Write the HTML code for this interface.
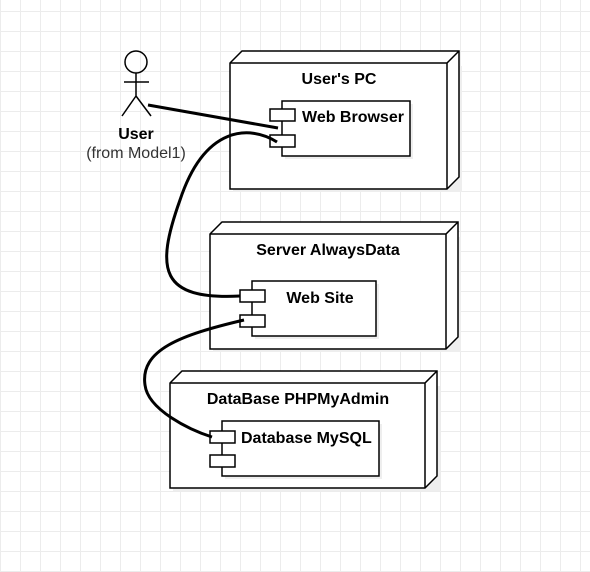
<!DOCTYPE html>
<html><head><style>
html,body{margin:0;padding:0;background:#fff;}
body{width:590px;height:572px;overflow:hidden;
background-image:linear-gradient(#ececec 1px,transparent 1px),linear-gradient(90deg,#ececec 1px,transparent 1px);
background-size:20px 20px;background-position:0 11px,0 0;}
text{font-family:"Liberation Sans",sans-serif;}
</style></head><body>
<svg width="590" height="572" style="position:absolute;left:0;top:0">
<g fill="none" stroke="#000" stroke-width="1.5">
<rect x="233" y="66" width="229" height="126" fill="#eee" stroke="none"/>
<rect x="213" y="237" width="248" height="115" fill="#eee" stroke="none"/>
<rect x="173" y="386" width="267" height="105" fill="#eee" stroke="none"/>
<path d="M230 63 L242 51 L459 51 L459 177 L447 189 L230 189 Z" fill="#fff"/>
<path d="M230 63 L447 63 L459 51 M447 63 L447 189"/>
<rect x="285" y="104" width="128" height="55" fill="#eee" stroke="none"/>
<rect x="282" y="101" width="128" height="55" fill="#fff"/>
<rect x="270" y="109" width="25" height="12" fill="#fff"/>
<rect x="270" y="135" width="25" height="12" fill="#fff"/>
<path d="M210 234 L222 222 L458 222 L458 337 L446 349 L210 349 Z" fill="#fff"/>
<path d="M210 234 L446 234 L458 222 M446 234 L446 349"/>
<rect x="255" y="284" width="124" height="55" fill="#eee" stroke="none"/>
<rect x="252" y="281" width="124" height="55" fill="#fff"/>
<rect x="240" y="290" width="25" height="12" fill="#fff"/>
<rect x="240" y="315" width="25" height="12" fill="#fff"/>
<path d="M170 383 L182 371 L437 371 L437 476 L425 488 L170 488 Z" fill="#fff"/>
<path d="M170 383 L425 383 L437 371 M425 383 L425 488"/>
<rect x="225" y="424" width="157" height="55" fill="#eee" stroke="none"/>
<rect x="222" y="421" width="157" height="55" fill="#fff"/>
<rect x="210" y="431" width="25" height="12" fill="#fff"/>
<rect x="210" y="455" width="25" height="12" fill="#fff"/>
<circle cx="136" cy="62" r="11"/>
<path d="M136 73 L136 96 M124 82 L149 82 M136 96 L122 116 M136 96 L151 116"/>
</g>
<g fill="none" stroke="#000" stroke-width="3">
<path d="M148 105 L278 128"/>
<path d="M277 142 C250 125 205 125 180 200 C155 270 160 300 240 296"/>
<path d="M244 320 C180 335 140 350 145 385 C148 410 190 430 212 437"/>
</g>
<g font-weight="bold" font-size="16" fill="#000">
<text x="339" y="84" text-anchor="middle">User's PC</text>
<text x="302" y="122">Web Browser</text>
<text x="328" y="255" text-anchor="middle">Server AlwaysData</text>
<text x="320" y="303" text-anchor="middle">Web Site</text>
<text x="298" y="404" text-anchor="middle">DataBase PHPMyAdmin</text>
<text x="241" y="443">Database MySQL</text>
<text x="136" y="139" text-anchor="middle">User</text>
</g>
<text x="136" y="158" text-anchor="middle" font-size="16" fill="#333">(from Model1)</text>
</svg>
</body></html>
